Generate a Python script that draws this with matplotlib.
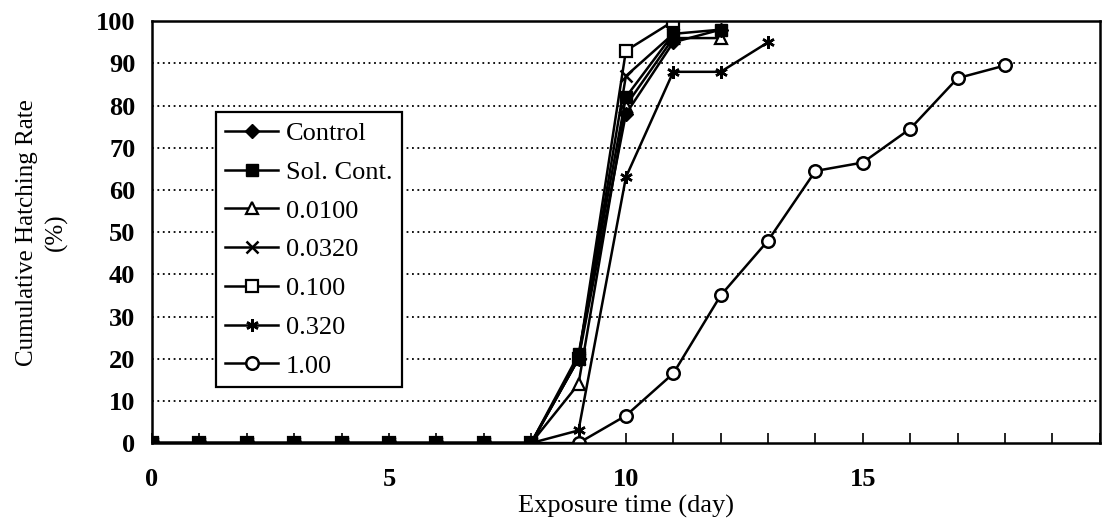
import matplotlib
matplotlib.use('Agg')
import matplotlib.pyplot as plt
from matplotlib.ticker import MultipleLocator

plt.rcParams['font.family'] = ['Liberation Serif', 'DejaVu Serif']

# exposure days and cumulative hatching rate (%) for each group
days_ctrl = [0, 1, 2, 3, 4, 5, 6, 7, 8, 9, 10, 11, 12]
control = [0, 0, 0, 0, 0, 0, 0, 0, 0, 20, 78, 95, 98]
sol_cont = [0, 0, 0, 0, 0, 0, 0, 0, 0, 21, 82, 97, 98]
c0100 = [0, 0, 0, 0, 0, 0, 0, 0, 0, 14, 80, 96, 96]

days_0320 = [0, 1, 2, 3, 4, 5, 6, 7, 8, 9, 10, 11]
c0320 = [0, 0, 0, 0, 0, 0, 0, 0, 0, 20, 87, 97]
c100 = [0, 0, 0, 0, 0, 0, 0, 0, 0, 20, 93, 100]

days_320 = [0, 1, 2, 3, 4, 5, 6, 7, 8, 9, 10, 11, 12, 13]
c320 = [0, 0, 0, 0, 0, 0, 0, 0, 0, 3, 63, 88, 88, 95]

days_1 = [0, 1, 2, 3, 4, 5, 6, 7, 8, 9, 10, 11, 12, 13, 14, 15, 16, 17, 18]
c1 = [0, 0, 0, 0, 0, 0, 0, 0, 0, 0, 6.5, 16.5, 35, 48, 64.5, 66.5, 74.5, 86.5, 89.5]

fig = plt.figure(figsize=(11.13, 5.30), dpi=100)
ax = fig.add_axes([0.1366, 0.164, 0.8515, 0.796])

kw = dict(color='black', lw=1.8, ms=9)
ax.plot(days_1, c1, marker='o', mfc='white', mew=1.8, label='1.00', **kw)
ax.plot(days_320, c320, marker=(6, 2, 0), mew=1.8, label='0.320', **kw)
ax.plot(days_0320, c100, marker='s', mfc='white', mew=1.6, label='0.100', **kw)
ax.plot(days_0320, c0320, marker='x', mew=1.8, label='0.0320', **kw)
ax.plot(days_ctrl, c0100, marker='^', mfc='white', mew=1.6, label='0.0100', **kw)
ax.plot(days_ctrl, control, marker='D', label='Control', color='black', lw=1.8, ms=7)
ax.plot(days_ctrl, sol_cont, marker='s', label='Sol. Cont.', **kw)

ax.set_xlim(0, 20)
ax.set_ylim(0, 100)
ax.set_xticks([0, 5, 10, 15, 20])
ax.set_xticklabels(['0', '5', '10', '15', ''])
ax.xaxis.set_minor_locator(MultipleLocator(1))
ax.set_yticks(range(0, 101, 10))
ax.tick_params(axis='x', which='both', direction='in', length=7, width=1.2, labelsize=19, pad=18)
ax.tick_params(axis='y', length=0, labelsize=19, pad=12)
for t in ax.get_xticklabels() + ax.get_yticklabels():
    t.set_fontweight('bold')

for y in range(10, 100, 10):
    ax.axhline(y, color='black', lw=1.3, ls=(0, (1, 2)), zorder=0)

for s in ax.spines.values():
    s.set_linewidth(1.8)

ax.set_xlabel('Exposure time (day)', fontsize=19, labelpad=3)
ax.set_ylabel('Cumulative Hatching Rate\n(%)', fontsize=18, labelpad=20, linespacing=1.4)

handles, labels = ax.get_legend_handles_labels()
order = ['Control', 'Sol. Cont.', '0.0100', '0.0320', '0.100', '0.320', '1.00']
hmap = dict(zip(labels, handles))
leg = ax.legend([hmap[k] for k in order], order, loc='upper left',
                bbox_to_anchor=(0.0675, 0.784), fontsize=19, frameon=True,
                fancybox=False, edgecolor='black', framealpha=1,
                handlelength=2.0, handletextpad=0.3, labelspacing=0.58,
                borderpad=0.35, borderaxespad=0)
leg.get_frame().set_linewidth(1.6)

fig.savefig('out.png', dpi=100)
